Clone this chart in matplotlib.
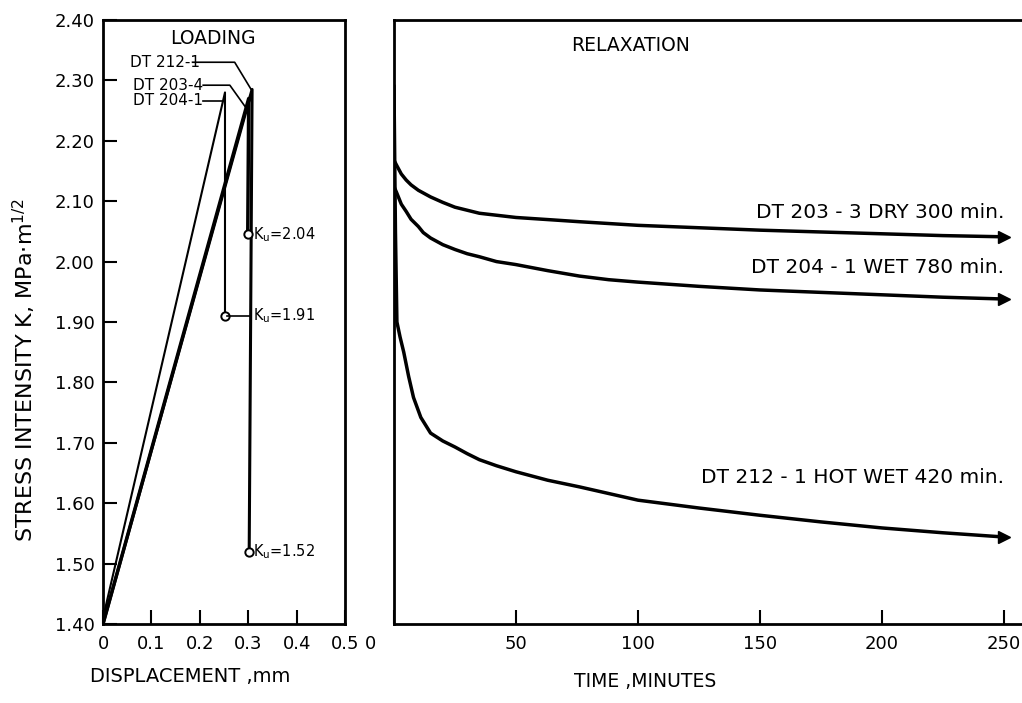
import matplotlib.pyplot as plt
from matplotlib.transforms import offset_copy

plt.rcParams['font.family'] = 'DejaVu Sans'

# loading branch (displacement mm, K MPa m^1/2): start, peak, after drop
load_204_1_x = [0.0, 0.252, 0.252]
load_204_1_k = [1.41, 2.28, 1.91]
load_203_4_x = [0.0, 0.301, 0.299]
load_203_4_k = [1.40, 2.27, 2.045]
load_212_1_x = [0.0, 0.308, 0.302]
load_212_1_k = [1.40, 2.285, 1.52]
ku_values = [1.91, 2.04, 1.52]

# relaxation curves (time min, K)
t_203_3 = [0, 1, 3, 5, 7, 10, 15, 20, 25, 30, 35, 50, 65, 76, 100, 125, 150, 175, 200, 225, 250]
k_203_3 = [2.168, 2.160, 2.145, 2.135, 2.127, 2.118, 2.107, 2.098, 2.090, 2.085, 2.080,
           2.073, 2.069, 2.066, 2.060, 2.056, 2.052, 2.049, 2.046, 2.043, 2.041]
t_204_1 = [0, 1, 3, 5, 7, 10, 12, 15, 20, 25, 30, 35, 42, 50, 63, 76, 88, 100, 125, 150, 175, 200, 225, 250]
k_204_1 = [2.124, 2.115, 2.095, 2.083, 2.070, 2.058, 2.048, 2.039, 2.028, 2.020, 2.013, 2.008,
           2.000, 1.995, 1.985, 1.976, 1.970, 1.966, 1.959, 1.953, 1.949, 1.945, 1.941, 1.938]
t_212_1 = [0, 0.6, 1.2, 2.5, 4, 6, 8, 11, 15, 20, 25, 30, 35, 42, 50, 63, 76, 88, 100, 125, 150, 175, 200, 225, 250]
k_212_1 = [2.29, 2.05, 1.90, 1.875, 1.85, 1.81, 1.775, 1.742, 1.716, 1.703, 1.693, 1.682, 1.672,
           1.662, 1.652, 1.638, 1.627, 1.616, 1.605, 1.592, 1.580, 1.569, 1.559, 1.551, 1.544]

fig = plt.figure(figsize=(10.22, 7.03), dpi=100)
ax = fig.add_axes([0.1008, 0.1124, 0.2368, 0.8592])
ax2 = fig.add_axes([0.3855, 0.1124, 0.6145, 0.8592])

for a in (ax, ax2):
    for s in a.spines.values():
        s.set_linewidth(2)
    a.set_ylim(1.40, 2.40)

# ---- loading panel
ax.plot(load_204_1_x, load_204_1_k, color='k', lw=1.5)
ax.plot(load_203_4_x, load_203_4_k, color='k', lw=2.5)
ax.plot(load_212_1_x, load_212_1_k, color='k', lw=2.2)
for xs, ks in [(load_204_1_x, load_204_1_k), (load_203_4_x, load_203_4_k), (load_212_1_x, load_212_1_k)]:
    ax.plot(xs[-1], ks[-1], 'o', ms=6, mfc='white', mec='k', mew=1.4)

# Ku labels
ax.plot([0.256, 0.305], [ku_values[0], ku_values[0]], color='k', lw=1.2)
ax.text(0.31, ku_values[0], r'K$_\mathrm{u}$=%.2f' % ku_values[0], fontsize=10.5, va='center')
ax.text(0.31, load_203_4_k[-1], r'K$_\mathrm{u}$=%.2f' % ku_values[1], fontsize=10.5, va='center')
ax.text(0.31, load_212_1_k[-1], r'K$_\mathrm{u}$=%.2f' % ku_values[2], fontsize=10.5, va='center')

# specimen leaders
ax.text(0.056, 2.33, 'DT 212-1', fontsize=11, va='center')
ax.plot([0.185, 0.272, 0.306], [2.33, 2.33, 2.285], color='k', lw=1.2)
ax.text(0.062, 2.292, 'DT 203-4', fontsize=11, va='center')
ax.plot([0.207, 0.262, 0.295], [2.292, 2.292, 2.255], color='k', lw=1.2)
ax.text(0.062, 2.266, 'DT 204-1', fontsize=11, va='center')
ax.plot([0.207, 0.245], [2.266, 2.266], color='k', lw=1.2)

ax.text(0.227, 2.37, 'LOADING', fontsize=13.5, ha='center', va='center')

ax.set_xlim(0, 0.5)
ax.set_xticks([0, 0.1, 0.2, 0.3, 0.4, 0.5])
ax.set_xticklabels(['0', '0.1', '0.2', '0.3', '0.4', '0.5'])
ax.set_yticks([1.4, 1.5, 1.6, 1.7, 1.8, 1.9, 2.0, 2.1, 2.2, 2.3, 2.4])
ax.set_yticklabels(['%.2f' % v for v in ax.get_yticks()])
ax.tick_params(direction='in', length=10, width=1.5, labelsize=13)
ax.tick_params(axis='x', pad=8)
ax.tick_params(axis='y', pad=6)
ax.set_xlabel('DISPLACEMENT ,mm', fontsize=14)
ax.xaxis.set_label_coords(0.36, -0.071)
ax.set_ylabel(r'STRESS INTENSITY K, MPa$\cdot$m$^{1/2}$', fontsize=16)
ax.yaxis.set_label_coords(-0.27, 0.42)

# ---- relaxation panel
curves = [(t_203_3, k_203_3, 'DT 203 - 3 DRY 300 min.', 2.082),
          (t_204_1, k_204_1, 'DT 204 - 1 WET 780 min.', 1.99),
          (t_212_1, k_212_1, 'DT 212 - 1 HOT WET 420 min.', 1.642)]
for t, k, lab, ly in curves:
    ax2.plot(t, k, color='k', lw=2.5, solid_joinstyle='round')
    ax2.plot(t[-1], k[-1], marker='>', ms=8, color='k')
    ax2.text(250, ly, lab, fontsize=14.5, ha='right', va='center')

ax2.text(97, 2.357, 'RELAXATION', fontsize=13.5, ha='center', va='center')

ax2.set_xlim(0, 257.4)
ax2.spines['right'].set_visible(False)
ax2.set_yticks([])
ax2.set_xticks([0, 50, 100, 150, 200, 250])
ax2.set_xticklabels(['', '50', '100', '150', '200', '250'])
ax2.tick_params(direction='in', length=10, width=1.5, labelsize=13, pad=8)
ax2.text(0, 0, '0', fontsize=13, ha='center', va='top',
         transform=offset_copy(ax2.get_xaxis_transform(), fig=fig, x=-17, y=-8, units='points'))
ax2.set_xlabel('TIME ,MINUTES', fontsize=13.5)
ax2.xaxis.set_label_coords(0.40, -0.079)

fig.savefig('out.png', dpi=100)
